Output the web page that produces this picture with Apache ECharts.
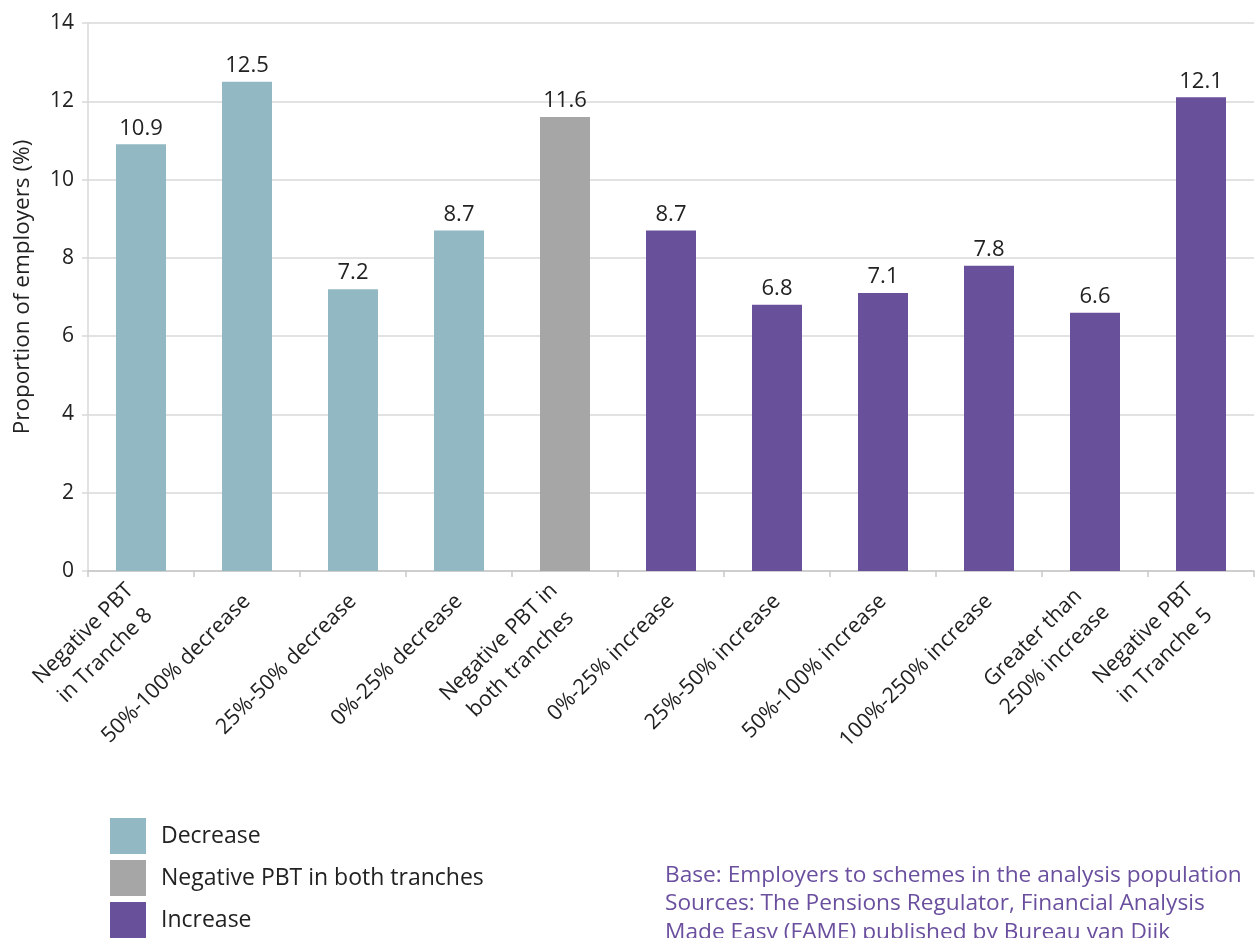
<!DOCTYPE html>
<html>
<head>
<meta charset="utf-8">
<script src="https://cdn.jsdelivr.net/npm/echarts@6/dist/echarts.min.js"></script>
<style>
  html, body { margin: 0; padding: 0; background: #ffffff; }
  #chart { width: 1258px; height: 938px; }
</style>
</head>
<body>
<div id="chart"></div>
<script>
// Change in profit before tax between tranches: share of employers per band
const categories = [
  'Negative PBT\nin Tranche 8',
  '50%-100% decrease',
  '25%-50% decrease',
  '0%-25% decrease',
  'Negative PBT in\nboth tranches',
  '0%-25% increase',
  '25%-50% increase',
  '50%-100% increase',
  '100%-250% increase',
  'Greater than\n250% increase',
  'Negative PBT\nin Tranche 5'
];
const decreaseValues = [10.9, 12.5, 7.2, 8.7, '-', '-', '-', '-', '-', '-', '-'];
const bothNegativeValues = ['-', '-', '-', '-', 11.6, '-', '-', '-', '-', '-', '-'];
const increaseValues = ['-', '-', '-', '-', '-', 8.7, 6.8, 7.1, 7.8, 6.6, 12.1];
const seriesNames = ['Decrease', 'Negative PBT in both tranches', 'Increase'];
const yTicks = { min: 0, max: 14, interval: 2 };
const yAxisTitle = 'Proportion of employers (%)';
const footnoteLines = [
  'Base: Employers to schemes in the analysis population',
  'Sources: The Pensions Regulator, Financial Analysis',
  'Made Easy (FAME) published by Bureau van Dijk'
];

const FONT = 'Open Sans';
const colors = ['#92b8c3', '#a6a6a6', '#68509b'];

function barSeries(name, data, color) {
  return {
    name: name,
    type: 'bar',
    stack: 'all',
    data: data,
    barWidth: 50,
    itemStyle: { color: color },
    label: {
      show: true,
      position: 'top',
      distance: 5,
      color: '#222222',
      fontFamily: FONT,
      fontSize: 22,
      formatter: p => p.value.toFixed(1)
    }
  };
}

// Category labels: each line centred within its rotated block
function categoryLabel(value) {
  return value.split('\n').map(line => '{c|' + line + '}').join('\n');
}

const chart = echarts.init(document.getElementById('chart'), null, { renderer: 'canvas' });
chart.setOption({
  animation: false,
  textStyle: { fontFamily: FONT },
  grid: { left: 88, right: 4, top: 23, bottom: 367, containLabel: false },
  legend: {
    orient: 'vertical',
    left: 110,
    top: 818,
    height: 120,
    padding: 0,
    itemWidth: 36,
    itemHeight: 36,
    itemGap: 6,
    icon: 'rect',
    data: seriesNames,
    textStyle: { fontFamily: FONT, fontSize: 23, color: '#222222', padding: [6, 0, 0, 10] }
  },
  xAxis: {
    type: 'category',
    data: categories,
    axisLine: { lineStyle: { color: '#c8c8c8', width: 1.5 } },
    axisTick: { show: true, length: 6, lineStyle: { color: '#c8c8c8', width: 1.5 } },
    axisLabel: {
      interval: 0,
      rotate: 45,
      margin: 27,
      color: '#222222',
      fontFamily: FONT,
      fontSize: 21.5,
      formatter: categoryLabel,
      rich: {
        c: { align: 'center', color: '#222222', fontFamily: FONT, fontSize: 21.5, lineHeight: 31 }
      }
    }
  },
  yAxis: {
    type: 'value',
    min: yTicks.min,
    max: yTicks.max,
    interval: yTicks.interval,
    axisLine: { show: true, lineStyle: { color: '#d9d9d9', width: 1.5 } },
    axisTick: { show: true, length: 6, lineStyle: { color: '#d9d9d9', width: 1.5 } },
    splitLine: { lineStyle: { color: '#d9d9d9', width: 1.5 } },
    axisLabel: { margin: 14, color: '#222222', fontFamily: FONT, fontSize: 21 }
  },
  series: [
    barSeries(seriesNames[0], decreaseValues, colors[0]),
    barSeries(seriesNames[1], bothNegativeValues, colors[1]),
    barSeries(seriesNames[2], increaseValues, colors[2])
  ],
  graphic: [{
    type: 'text',
    x: 23,
    y: 287,
    rotation: Math.PI / 2,
    style: {
      text: yAxisTitle,
      fill: '#222222',
      font: '22.5px "' + FONT + '"',
      align: 'center',
      verticalAlign: 'middle'
    }
  }, {
    type: 'text',
    left: 665,
    top: 861,
    style: {
      text: footnoteLines.join('\n'),
      fill: '#6a4f9e',
      font: '22.7px "' + FONT + '"',
      lineHeight: 28.5
    }
  }]
});
</script>
</body>
</html>
